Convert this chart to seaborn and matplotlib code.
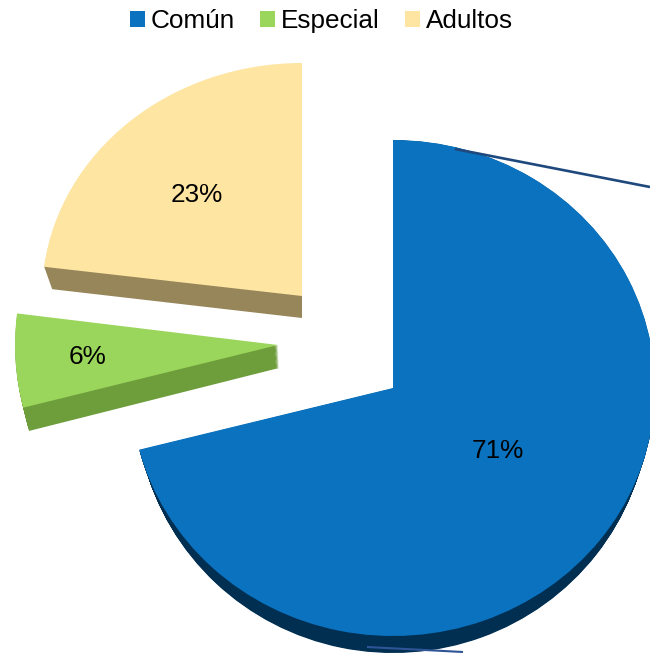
import numpy as np
import matplotlib
matplotlib.use('Agg')
import matplotlib.pyplot as plt
from matplotlib.transforms import Affine2D
import seaborn as sns

# Data
categories = ['Común', 'Especial', 'Adultos']
values = [71, 6, 23]

# Slice geometry in image pixels: centre x, centre y, radius x, radius y
top_faces = [(393, 388, 262, 248), (278, 345, 263, 252), (302, 296, 260, 233)]
bottom_faces = [(393, 400, 257, 253), (279, 368, 258, 253), (302, 318, 252, 230)]
label_pos = [(498, 451), (88, 357), (197, 195)]

face_colors = sns.color_palette(['#0A72BF', '#9BD65C', '#FEE5A2'])
side_colors = sns.color_palette(['#002F52', '#6E9E3C', '#96865A'])

sns.set_theme(style='white')
plt.rcParams['font.family'] = ['Liberation Sans', 'DejaVu Sans']

fig = plt.figure(figsize=(6.5, 6.53), dpi=100)
ax = fig.add_axes([0, 0, 1, 1])

# Extrude every slice: stack of pies from the bottom face up to the top face
steps = np.linspace(1, 0, 27)
for t in steps:
    colors = face_colors if t == 0 else side_colors
    wedges, _ = ax.pie(values, startangle=90, counterclock=False, colors=colors, radius=1,
                       wedgeprops={'linewidth': 0, 'edgecolor': 'none'})
    for wedge, top, bottom in zip(wedges, top_faces, bottom_faces):
        cx, cy, rx, ry = [a + (b - a) * t for a, b in zip(top, bottom)]
        wedge.set_transform(Affine2D().scale(rx, -ry).translate(cx, cy) + ax.transData)

ax.set_aspect('auto')
ax.set_xlim(0, 650)
ax.set_ylim(653, 0)
ax.axis('off')

# Leader line crossing the blue slice, and its end below the pie
ax.plot([455, 650], [149, 187], color='#1F497D', lw=1.9, solid_capstyle='butt')
ax.plot([367, 463], [647, 652], color='#2F5597', lw=1.5, solid_capstyle='butt')

for (x, y), v in zip(label_pos, values):
    ax.text(x, y, f'{v}%', fontsize=18.8, color='black', ha='center', va='center')

ax.legend(wedges, categories, loc='upper center', bbox_to_anchor=(0.4945, 1.0), ncol=3,
          frameon=False, fontsize=18.8, handlelength=0.58, handleheight=0.58,
          handletextpad=0.22, columnspacing=0.97, borderpad=0.0, borderaxespad=0.35,
          labelcolor='black')

fig.savefig('out.png', dpi=100)
